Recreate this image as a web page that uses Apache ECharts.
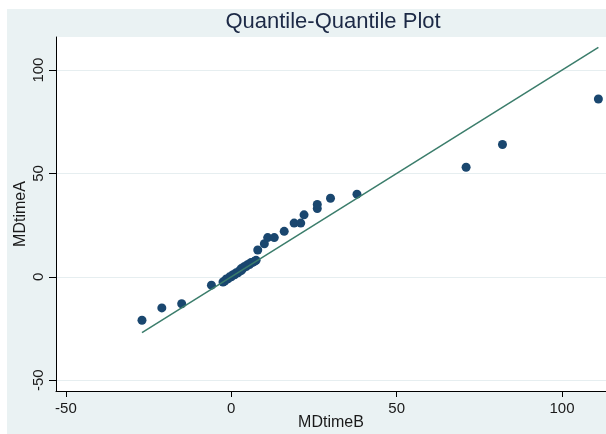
<!DOCTYPE html>
<html>
<head>
<meta charset="utf-8">
<script src="https://cdn.jsdelivr.net/npm/echarts@6/dist/echarts.min.js"></script>
<style>
html,body{margin:0;padding:0;background:#fff;}
#c{width:606px;height:434px;}
</style>
</head>
<body>
<div id="c"></div>
<script>
// Q-Q plot: sorted quantiles of MDtimeB (x) vs MDtimeA (y)
var quantB = [-27,-21,-15,-6,
  -2.5,-2,-1.5,-1,-0.5,0,0.5,1,1.5,2,2.5,3,3,3.5,4,4.5,5,5.5,6,6.5,7,7.5,
  8,10,11,13,16,19,21,22,26,26,30,38,71,82,111];
var quantA = [-21,-15,-13,-4,
  -2.5,-2,-1,-1,0,0,1,1,2,2,3,3,4,4,5,5,6,6,7,7,7.5,8,
  13,16,19,19,22,26,26,30,33,35,38,40,53,64,86];
var xTicks = [-50, 0, 50, 100];
var yTicks = [-50, 0, 50, 100];
var titleText = 'Quantile-Quantile Plot';
var xName = 'MDtimeB';
var yName = 'MDtimeA';

var points = quantB.map(function (v, i) { return [v, quantA[i]]; });
var lo = Math.min.apply(null, quantB), hi = Math.max.apply(null, quantB);
var refLine = [[lo, lo], [hi, hi]];

var FONT = 'Liberation Sans, Arial, Helvetica, sans-serif';
var chart = echarts.init(document.getElementById('c'));
chart.setOption({
  backgroundColor: '#eaf2f3',
  animation: false,
  graphic: [
    {type: 'rect', z: -100, shape: {x: 0, y: 0, width: 606, height: 9}, style: {fill: '#ffffff'}},
    {type: 'rect', z: -100, shape: {x: 0, y: 0, width: 7, height: 434}, style: {fill: '#ffffff'}}
  ],
  title: {
    text: titleText,
    left: 333,
    top: 11,
    padding: 0,
    textAlign: 'center',
    textStyle: {fontFamily: FONT, fontSize: 22, fontWeight: 'normal', color: '#1c2946'}
  },
  grid: {left: 56, top: 37, right: 0, bottom: 43, outerBoundsMode: 'none', containLabel: false,
    show: true, backgroundColor: '#ffffff', borderWidth: 0},
  xAxis: {
    type: 'value', min: -53, max: 113.3,
    name: xName, nameLocation: 'middle', nameGap: 24, nameMoveOverlap: false,
    nameTextStyle: {fontFamily: FONT, fontSize: 16, color: '#1a1a1a'},
    axisLine: {show: true, onZero: false, lineStyle: {color: '#000', width: 1}},
    axisTick: {show: true, length: 6, customValues: xTicks, lineStyle: {color: '#000'}},
    axisLabel: {customValues: xTicks, margin: 10, fontFamily: FONT, fontSize: 15, color: '#1a1a1a'},
    splitLine: {show: false}
  },
  yAxis: {
    type: 'value', min: -55.2, max: 116,
    name: yName, nameLocation: 'middle', nameGap: 27, nameMoveOverlap: false,
    nameTextStyle: {fontFamily: FONT, fontSize: 16, color: '#1a1a1a'},
    axisLine: {show: true, onZero: false, lineStyle: {color: '#000', width: 1}},
    axisTick: {show: true, length: 7, customValues: yTicks, lineStyle: {color: '#000'}},
    axisLabel: {customValues: yTicks, rotate: 90, margin: 10, fontFamily: FONT, fontSize: 15, color: '#1a1a1a'},
    splitLine: {show: true, lineStyle: {color: '#e6eef0', width: 1}}
  },
  series: [
    {
      type: 'scatter', data: points, symbol: 'circle', symbolSize: 9,
      itemStyle: {color: '#1a476f', opacity: 1}, z: 2
    },
    {
      type: 'line', data: refLine, showSymbol: false, symbol: 'none',
      lineStyle: {color: '#3b7d6b', width: 1.5}, z: 3, silent: true
    }
  ]
});
</script>
</body>
</html>
